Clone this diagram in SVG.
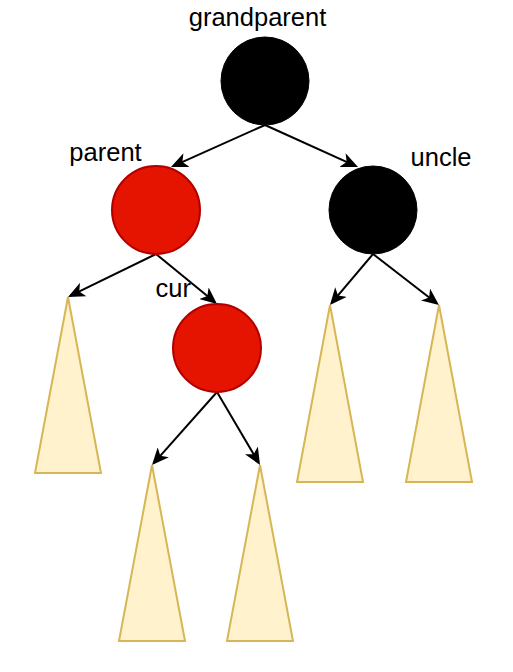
<svg xmlns="http://www.w3.org/2000/svg" width="513" height="672" viewBox="0 0 513 672">
  <style>
    .lbl { font-family: "Liberation Sans", Arial, sans-serif; font-size: 25.5px; fill: #000; }
    .black { fill: #000000; stroke: #000000; stroke-width: 1; }
    .red { fill: #e51400; stroke: #b20000; stroke-width: 2; }
    .sub { fill: #fff2cc; stroke: #d6b656; stroke-width: 2; stroke-linejoin: miter; }
    .edge { stroke: #000000; stroke-width: 2; fill: none; marker-end: url(#arrow); }
  </style>
  <defs>
    <marker id="arrow" viewBox="0 0 17 15" refX="14" refY="7.5" markerWidth="17" markerHeight="15" markerUnits="userSpaceOnUse" orient="auto">
      <path d="M0,0 L17,7.5 L0,15 L4.5,7.5 Z" fill="#000000" stroke="none"/>
    </marker>
  </defs>
  <rect width="513" height="672" fill="#ffffff"/>

  <g id="connectors">
    <line class="edge" x1="265" y1="125" x2="173.7" y2="165.8"/>
    <line class="edge" x1="265" y1="125" x2="355.3" y2="165.8"/>
    <line class="edge" x1="156" y1="254" x2="70.7" y2="295.7"/>
    <line class="edge" x1="156" y1="254" x2="214.7" y2="302.1"/>
    <line class="edge" x1="373" y1="254" x2="331.9" y2="302.7"/>
    <line class="edge" x1="373" y1="254" x2="436.6" y2="303.2"/>
    <line class="edge" x1="217" y1="392" x2="154" y2="462.8"/>
    <line class="edge" x1="217" y1="392" x2="258.5" y2="462.4"/>
  </g>

  <g id="grandparent">
    <circle class="black" cx="265" cy="81" r="44"/>
    <text class="lbl" x="257.5" y="26" text-anchor="middle">grandparent</text>
  </g>
  <g id="parent">
    <circle class="red" cx="156" cy="210" r="44"/>
    <text class="lbl" x="105.5" y="161" text-anchor="middle">parent</text>
  </g>
  <g id="uncle">
    <circle class="black" cx="373" cy="210" r="44"/>
    <text class="lbl" x="441" y="166" text-anchor="middle">uncle</text>
  </g>
  <g id="cur">
    <circle class="red" cx="217" cy="348" r="44"/>
    <text class="lbl" x="155.5" y="297">cur</text>
  </g>

  <g id="subtree1"><polygon class="sub" points="68,297 101,473 35,473"/></g>
  <g id="subtree2"><polygon class="sub" points="330,305 363,482 297,482"/></g>
  <g id="subtree3"><polygon class="sub" points="439,305 472,482 406,482"/></g>
  <g id="subtree4"><polygon class="sub" points="152,465 185,641 119,641"/></g>
  <g id="subtree5"><polygon class="sub" points="260,465 293,641 227,641"/></g>
</svg>
